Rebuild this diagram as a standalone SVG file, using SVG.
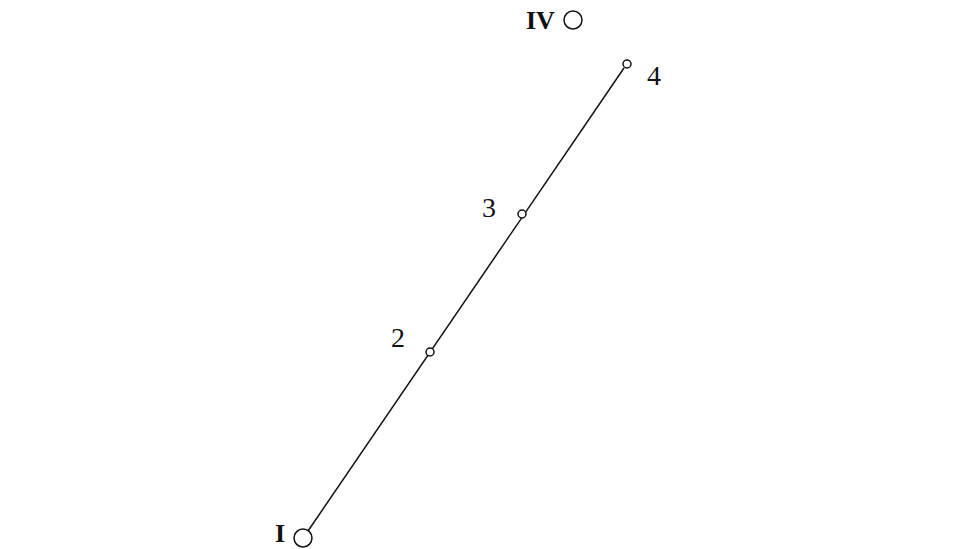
<svg xmlns="http://www.w3.org/2000/svg" width="962" height="549" viewBox="0 0 962 549">
<style>
.lbl{font-family:"Liberation Serif","DejaVu Serif",serif;fill:#111;}
.roman{font-weight:bold;font-size:26px;}
.num{font-size:28px;}
.pt{fill:#fff;stroke:#111;stroke-width:1.5;}
.edge{stroke:#111;stroke-width:1.5;fill:none;}
</style>
<rect width="962" height="549" fill="#fff"/>
<g id="connectors">
<line class="edge" x1="308" y1="531" x2="624" y2="68"/>
</g>
<g id="nodeI">
<circle class="pt" cx="303" cy="538" r="9"/>
<text class="lbl roman" x="275" y="542">I</text>
</g>
<g id="node2">
<circle class="pt" cx="430" cy="352" r="4"/>
<text class="lbl num" x="391" y="347">2</text>
</g>
<g id="node3">
<circle class="pt" cx="522" cy="214" r="4"/>
<text class="lbl num" x="482" y="217">3</text>
</g>
<g id="node4">
<circle class="pt" cx="627" cy="64" r="4"/>
<text class="lbl num" x="647" y="85">4</text>
</g>
<g id="nodeIV">
<text class="lbl roman" x="526" y="29">IV</text>
<circle class="pt" cx="573" cy="20" r="9"/>
</g>
</svg>
